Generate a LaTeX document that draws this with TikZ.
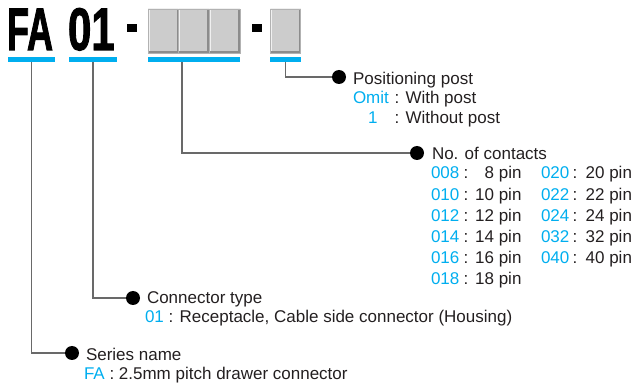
\documentclass[tikz,border=0pt]{standalone}
\usepackage{fontspec}
\setmainfont{Liberation Sans}
\newfontfamily\heavyfont[FakeBold=2]{Liberation Sans Bold}
\usetikzlibrary{calc}
\definecolor{fablue}{RGB}{0,174,239}
\definecolor{boxgray}{RGB}{204,204,204}
\definecolor{leadgray}{RGB}{105,105,105}
\definecolor{txtgray}{RGB}{35,31,32}
\newcommand{\pno}[1]{\textcolor{fablue}{#1}}

\begin{document}
\begin{tikzpicture}[x=1pt, y=-1pt,
    every node/.style = {inner sep=0pt, outer sep=0pt},
    txt/.style = {anchor=base west, text=txtgray, font=\fontsize{17}{20}\selectfont},
    big/.style = {anchor=base west, font=\fontsize{60}{60}\heavyfont},
    slot/.style = {rectangle, fill=boxgray, draw=black!30, line width=0.6pt,
        minimum width=30.5pt, minimum height=44pt,
        path picture={
            \draw[line width=3pt, white!70!boxgray] (path picture bounding box.south west) |- (path picture bounding box.north east);
            \draw[line width=4pt, black!45] (path picture bounding box.south west) -| (path picture bounding box.north east);
        }},
    hyph/.style = {rectangle, fill=black, minimum width=10pt, minimum height=8pt},
    bar/.style = {rectangle, fill=fablue, minimum height=5pt},
    dot/.style = {circle, fill=black, minimum size=14pt},
    lead/.style = {draw=leadgray, line width=1.3pt}
]
\useasboundingbox (0,0) rectangle (633,385);

% part number
\node (fa) [big] at (7,50) {\scalebox{0.6}[1]{FA}};
\node (n01) [big] at (68,50) {\scalebox{0.7}[1]{01}};
\node (h1) [hyph] at (132,28) {};
\foreach \x [count=\i] in {163.3,194,224.7} {
    \node (box\i) [slot] at (\x,31) {};
}
\node (h2) [hyph] at (256.5,28) {};
\node (box4) [slot] at (285.5,31) {};

\node (barFA) [bar, minimum width=47pt] at (31.5,59.5) {};
\node (bar01) [bar, minimum width=48pt] at (93,59.5) {};
\node (barNum) [bar, minimum width=92pt] at (194,59.5) {};
\node (barPost) [bar, minimum width=31pt] at (285.5,59.5) {};

\node (dotPost) [dot] at (339,77) {};
\node (dotNum) [dot] at (417,153) {};
\node (dotType) [dot] at (133,298) {};
\node (dotSeries) [dot] at (72,353) {};

\draw[lead] (barPost.south) |- (dotPost);
\draw[lead] ([xshift=-12pt]barNum.south) |- (dotNum);
\draw[lead] (bar01.south) |- (dotType);
\draw[lead] (barFA.south) |- (dotSeries);

% positioning post
\node (postHead) [txt] at (353,84.5) {Positioning post};
\node (postK1) [txt] at (353,104) {\pno{Omit}};
\node (postV1) [txt] at (394.5,104) {: With post};
\node (postK2) [txt] at (368,124) {\pno{1}};
\node (postV2) [txt] at (394.5,124) {: Without post};

% contacts
\node (numHead) [txt] at (432,160) {No. of contacts};
\foreach \k/\p [count=\i] in {008/8,010/10,012/12,014/14,016/16,018/18} {
    \node (ka\i) [txt] at (431,{179+21.2*(\i-1)}) {\pno{\k}};
    \node (ca\i) [txt] at (463.5,{179+21.2*(\i-1)}) {:};
    \node (pa\i) [txt, anchor=base east] at (521.5,{179+21.2*(\i-1)}) {\p\ pin};
}
\foreach \k/\p [count=\i] in {020/20,022/22,024/24,032/32,040/40} {
    \node (kb\i) [txt] at (541,{179+21.2*(\i-1)}) {\pno{\k}};
    \node (cb\i) [txt] at (572.5,{179+21.2*(\i-1)}) {:};
    \node (pb\i) [txt, anchor=base east] at (632,{179+21.2*(\i-1)}) {\p\ pin};
}

% connector type and series
\node (typeHead) [txt] at (147,304) {Connector type};
\node (typeVal) [txt] at (145,323) {\pno{01} : Receptacle, Cable side connector (Housing)};
\node (seriesHead) [txt] at (86,361) {Series name};
\node (seriesVal) [txt] at (84,380) {\pno{FA} : 2.5mm pitch drawer connector};
\end{tikzpicture}
\end{document}
